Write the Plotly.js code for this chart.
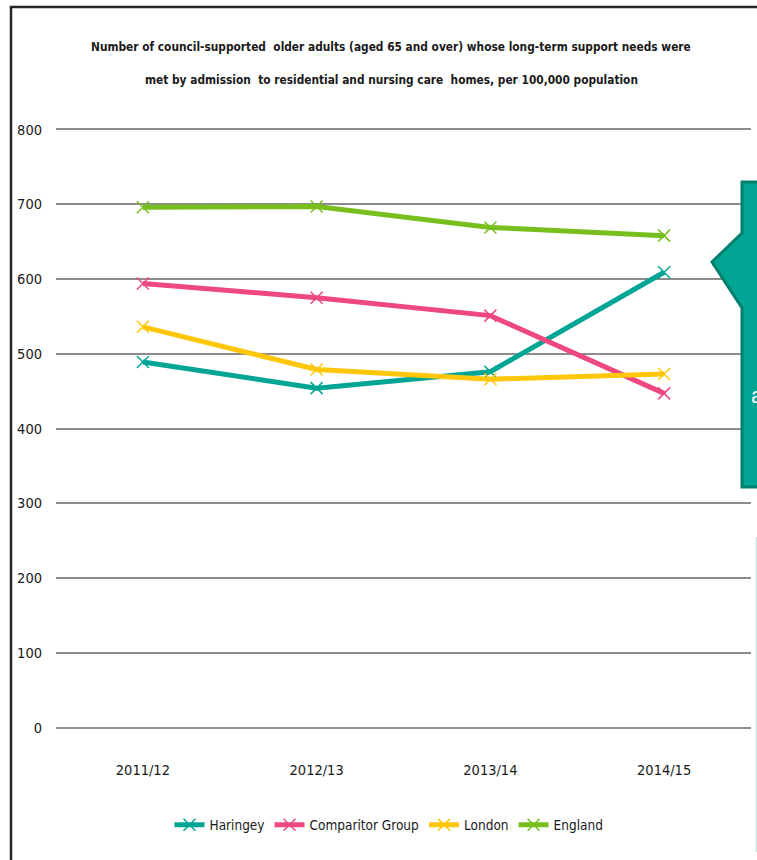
<!DOCTYPE html>
<html>
<head>
<meta charset="utf-8">
<script src="https://cdn.plot.ly/plotly-3.0.1.min.js"></script>
<style>
html,body{margin:0;padding:0;background:#fff;}
#chart{width:757px;height:860px;}
</style>
</head>
<body>
<div id="chart"></div>
<script>
const categories = ["2011/12", "2012/13", "2013/14", "2014/15"];
const haringey   = [489, 454, 476, 609];
const comparitor = [594, 575, 551, 447];
const london     = [536, 479, 466, 473];
const england    = [696, 697, 669, 658];
const seriesNames = ["Haringey", "Comparitor Group", "London", "England"];
const seriesColors = ["#00a595", "#ee4880", "#ffc60a", "#78bf1e"];
const yTicks = [0, 100, 200, 300, 400, 500, 600, 700, 800];
const titleLine1 = "Number of council-supported  older adults (aged 65 and over) whose long-term support needs were";
const titleLine2 = "met by admission  to residential and nursing care  homes, per 100,000 population";

const FONT = '"DejaVu Sans Condensed", "Liberation Sans", sans-serif';
const allValues = [haringey, comparitor, london, england];

const traces = allValues.map((vals, i) => ({
  type: 'scatter',
  mode: 'lines+markers',
  x: categories,
  y: vals,
  name: seriesNames[i],
  line: {color: seriesColors[i], width: 5},
  marker: {symbol: 'x-thin-open', size: 12, line: {color: seriesColors[i], width: 1.5}, color: seriesColors[i]},
  cliponaxis: false
}));

// pixel -> paper helpers (plot area x: 56..751, y: 732..125)
const px = p => (p - 56) / 695;
const py = p => (732 - p) / 607;

const calloutPath = 'M ' + px(742) + ' ' + py(182) +
  ' L ' + px(770) + ' ' + py(182) +
  ' L ' + px(770) + ' ' + py(487) +
  ' L ' + px(742) + ' ' + py(487) +
  ' L ' + px(742) + ' ' + py(308) +
  ' L ' + px(712) + ' ' + py(262) +
  ' L ' + px(742) + ' ' + py(233) + ' Z';

const layout = {
  width: 757,
  height: 860,
  paper_bgcolor: '#ffffff',
  plot_bgcolor: '#ffffff',
  margin: {l: 56, r: 6, t: 125, b: 128},
  font: {family: FONT, color: '#1a1a1a'},
  showlegend: true,
  legend: {
    orientation: 'h', x: px(389), xanchor: 'center', y: py(825), yanchor: 'middle',
    font: {family: FONT, size: 13.5, color: '#1a1a1a'}, itemwidth: 30, tracegroupgap: 0,
    bgcolor: 'rgba(0,0,0,0)'
  },
  xaxis: {
    type: 'category', range: [-0.5, 3.5], showgrid: false, zeroline: false, showline: false,
    ticks: '', tickfont: {family: FONT, size: 14.5, color: '#1a1a1a'}, ticklabelstandoff: 27,
    fixedrange: true
  },
  yaxis: {
    range: [-6, 806], tickvals: yTicks, ticktext: yTicks.map(String),
    showgrid: true, gridcolor: '#8c8c8c', gridwidth: 2,
    zeroline: true, zerolinecolor: '#8c8c8c', zerolinewidth: 2, showline: false,
    ticks: '', tickfont: {family: FONT, size: 14.5, color: '#1a1a1a'}, ticklabelstandoff: 13,
    fixedrange: true
  },
  title: {text: ''},
  annotations: [
    {xref: 'paper', yref: 'paper', x: px(391), y: py(47), xanchor: 'center', yanchor: 'middle',
     text: '<b>' + titleLine1 + '</b>', showarrow: false, font: {family: FONT, size: 11.8, color: '#1a1a1a'}},
    {xref: 'paper', yref: 'paper', x: px(391), y: py(80), xanchor: 'center', yanchor: 'middle',
     text: '<b>' + titleLine2 + '</b>', showarrow: false, font: {family: FONT, size: 11.8, color: '#1a1a1a'}},
    {xref: 'paper', yref: 'paper', x: px(749), y: py(395), xanchor: 'left', yanchor: 'middle',
     text: 'a', showarrow: false, font: {family: 'Liberation Sans, sans-serif', size: 22, color: '#ffffff'}}
  ],
  shapes: [
    {type: 'path', xref: 'paper', yref: 'paper', path: calloutPath,
     fillcolor: '#00a693', line: {color: '#00806e', width: 3}, layer: 'above'},
    {type: 'line', xref: 'paper', yref: 'paper', x0: px(756.5), x1: px(756.5), y0: py(537), y1: py(852),
     line: {color: '#bfe3df', width: 1.5}, layer: 'above'},
    {type: 'path', xref: 'paper', yref: 'paper',
     path: 'M ' + px(11) + ' ' + py(870) + ' L ' + px(11) + ' ' + py(7) + ' L ' + px(770) + ' ' + py(7),
     line: {color: '#262626', width: 2.5}, layer: 'above'}
  ]
};

Plotly.newPlot('chart', traces, layout, {displayModeBar: false, staticPlot: true});
</script>
</body>
</html>
